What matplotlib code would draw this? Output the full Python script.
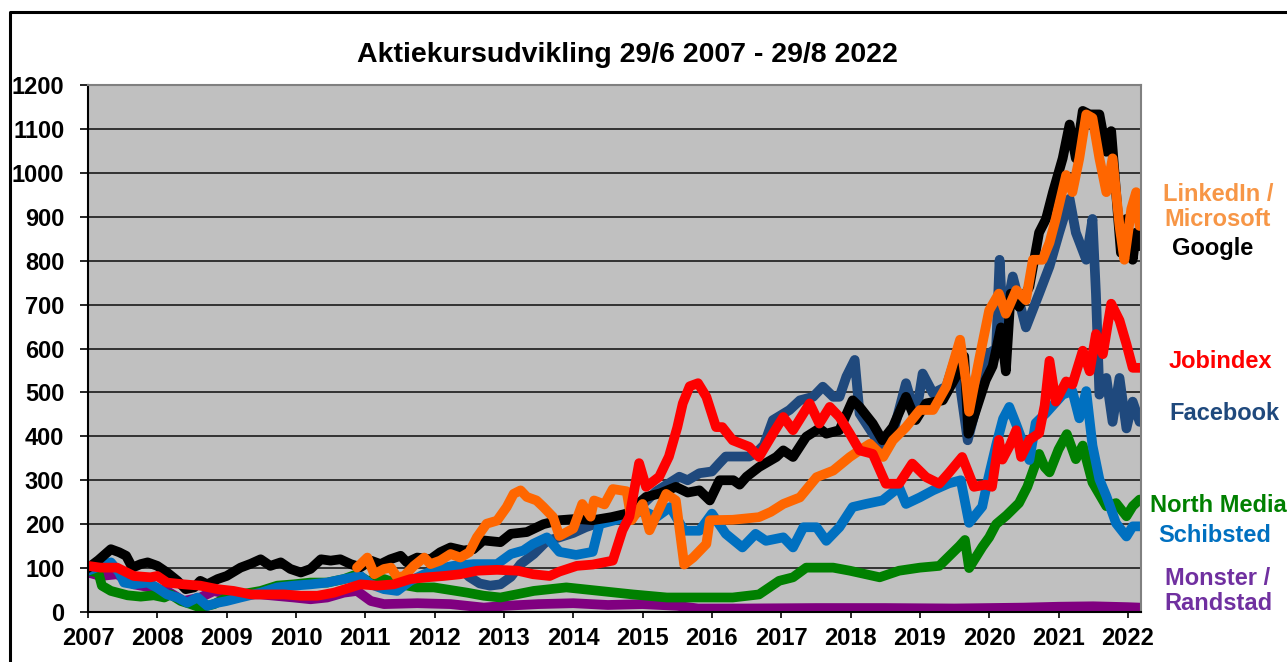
import matplotlib
matplotlib.use("Agg")
import matplotlib.pyplot as plt
from matplotlib.lines import Line2D

plt.rcParams['font.family'] = ['Liberation Sans', 'DejaVu Sans']
plt.rcParams['font.weight'] = 'bold'

# (year, index) pairs, start = 100
google = [(2007.00, 100), (2007.15, 118), (2007.33, 143), (2007.45, 136), (2007.55, 128), (2007.64, 101),
          (2007.76, 109), (2007.86, 113), (2008.00, 105), (2008.14, 90), (2008.29, 71), (2008.41, 52),
          (2008.53, 56), (2008.62, 71), (2008.72, 63), (2008.87, 75), (2009.00, 82), (2009.20, 101),
          (2009.35, 110), (2009.49, 120), (2009.63, 105), (2009.78, 113), (2009.92, 98), (2010.07, 90),
          (2010.21, 98), (2010.36, 120), (2010.50, 117), (2010.64, 120), (2010.79, 109), (2010.93, 102),
          (2011.08, 117), (2011.22, 109), (2011.36, 120), (2011.51, 128), (2011.60, 113), (2011.75, 124),
          (2011.94, 120), (2012.08, 136), (2012.23, 147), (2012.42, 140), (2012.56, 143), (2012.70, 163),
          (2012.95, 159), (2013.10, 178), (2013.33, 182), (2013.57, 200), (2013.80, 209), (2014.05, 212),
          (2014.28, 209), (2014.55, 216), (2014.77, 224), (2015.05, 262), (2015.25, 270), (2015.48, 285),
          (2015.65, 272), (2015.82, 277), (2015.97, 254), (2016.11, 300), (2016.31, 300), (2016.40, 290),
          (2016.50, 308), (2016.68, 330), (2016.93, 353), (2017.03, 368),
          (2017.17, 353), (2017.36, 399), (2017.55, 418), (2017.65, 406), (2017.84, 414), (2018.03, 482),
          (2018.13, 467), (2018.32, 429), (2018.46, 391), (2018.61, 421), (2018.80, 490), (2018.94, 437),
          (2019.09, 475), (2019.33, 482), (2019.52, 536), (2019.64, 582), (2019.70, 406), (2019.81, 460),
          (2019.95, 528), (2020.05, 560), (2020.17, 648), (2020.24, 548), (2020.31, 725), (2020.43, 695),
          (2020.58, 741), (2020.72, 864), (2020.82, 895), (2020.92, 956), (2021.06, 1033), (2021.16, 1110),
          (2021.25, 1033), (2021.35, 1141), (2021.45, 1133), (2021.59, 1133), (2021.69, 1048), (2021.76, 1095),
          (2021.83, 956), (2021.90, 818), (2021.98, 895), (2022.07, 802), (2022.12, 864), (2022.17, 833)]

linkedin = [(2010.88, 101), (2011.03, 124), (2011.13, 86), (2011.27, 98), (2011.37, 101), (2011.46, 79),
            (2011.56, 82), (2011.70, 105), (2011.85, 124), (2011.94, 109), (2012.08, 117), (2012.23, 132),
            (2012.37, 124), (2012.50, 136), (2012.61, 170), (2012.75, 201), (2012.90, 208), (2013.04, 239),
            (2013.14, 269), (2013.24, 277), (2013.33, 262), (2013.47, 254), (2013.57, 239), (2013.71, 216),
            (2013.80, 173), (2014.00, 190), (2014.13, 246), (2014.25, 217), (2014.30, 254), (2014.45, 245),
            (2014.57, 280), (2014.77, 275), (2014.84, 209), (2015.00, 246), (2015.10, 186), (2015.34, 269),
            (2015.48, 254), (2015.60, 108), (2015.73, 124), (2015.92, 155), (2015.97, 209), (2016.30, 210),
            (2016.68, 216), (2016.85, 228),
            (2017.03, 246), (2017.27, 261), (2017.51, 307), (2017.75, 322), (2017.99, 353), (2018.13, 368),
            (2018.28, 383), (2018.47, 353), (2018.61, 391), (2018.80, 421), (2019.00, 460), (2019.19, 460),
            (2019.38, 513), (2019.58, 620), (2019.67, 521), (2019.71, 456), (2019.86, 579), (2020.00, 687),
            (2020.14, 725), (2020.24, 679), (2020.39, 733), (2020.53, 710), (2020.63, 802), (2020.77, 802),
            (2020.87, 841), (2020.96, 895), (2021.11, 995), (2021.20, 956), (2021.30, 1033), (2021.40, 1133),
            (2021.49, 1125), (2021.59, 1033), (2021.69, 956), (2021.78, 1033), (2021.88, 879), (2021.95, 802),
            (2022.05, 918), (2022.12, 956), (2022.17, 879)]

facebook = [(2012.40, 95), (2012.50, 80), (2012.65, 65), (2012.80, 60), (2012.95, 63), (2013.10, 80),
            (2013.24, 109), (2013.43, 132), (2013.62, 162), (2013.80, 170), (2014.00, 180), (2014.18, 193),
            (2014.40, 205), (2014.60, 215), (2014.80, 225), (2015.00, 245), (2015.20, 275), (2015.53, 308),
            (2015.65, 300), (2015.82, 316), (2016.00, 320), (2016.11, 339), (2016.20, 354), (2016.54, 354),
            (2016.63, 361), (2016.75, 380),
            (2016.88, 437), (2017.12, 460), (2017.27, 482), (2017.46, 490), (2017.60, 513), (2017.75, 490),
            (2017.84, 490), (2017.94, 536), (2018.06, 574), (2018.13, 452), (2018.32, 406), (2018.46, 376),
            (2018.61, 406), (2018.80, 521), (2018.94, 444), (2019.04, 543), (2019.19, 498), (2019.38, 513),
            (2019.52, 582), (2019.69, 391), (2019.86, 495), (2020.00, 589), (2020.10, 600), (2020.15, 802),
            (2020.20, 648), (2020.34, 764), (2020.53, 648), (2020.72, 725), (2020.87, 787), (2021.01, 864),
            (2021.16, 941), (2021.25, 864), (2021.40, 802), (2021.49, 895), (2021.54, 725), (2021.59, 495),
            (2021.69, 533), (2021.78, 433), (2021.88, 533), (2021.98, 418), (2022.07, 479), (2022.17, 433)]

jobindex = [(2007.00, 105), (2007.18, 101), (2007.42, 101), (2007.66, 82), (2007.90, 79), (2008.00, 82),
            (2008.14, 67), (2008.38, 63), (2008.62, 60), (2008.87, 52), (2009.10, 48), (2009.35, 40),
            (2009.59, 40), (2009.83, 40), (2010.07, 37), (2010.31, 37), (2010.55, 44), (2010.79, 56),
            (2010.93, 63), (2011.17, 60), (2011.41, 63), (2011.65, 75), (2011.89, 79), (2012.13, 82),
            (2012.37, 86), (2012.61, 94), (2012.90, 96), (2013.20, 94), (2013.42, 86), (2013.66, 82),
            (2013.80, 92), (2014.05, 105), (2014.28, 108), (2014.57, 117), (2014.71, 186), (2014.81, 217),
            (2014.95, 339), (2015.05, 285), (2015.24, 308), (2015.38, 354), (2015.50, 420), (2015.58, 475),
            (2015.68, 514), (2015.80, 521), (2015.92, 490), (2016.06, 421),
            (2016.15, 421), (2016.30, 391), (2016.54, 376), (2016.68, 353), (2016.88, 406), (2017.03, 444),
            (2017.17, 414), (2017.41, 475), (2017.55, 429), (2017.70, 467), (2017.84, 444), (2017.99, 406),
            (2018.13, 368), (2018.32, 360), (2018.51, 292), (2018.70, 292), (2018.89, 338), (2019.09, 307),
            (2019.28, 292), (2019.42, 317), (2019.61, 353), (2019.78, 285), (2019.95, 290), (2020.04, 285),
            (2020.14, 392), (2020.19, 347), (2020.30, 380), (2020.39, 414), (2020.46, 353), (2020.58, 392),
            (2020.72, 407), (2020.80, 470), (2020.87, 572), (2020.96, 479), (2021.11, 525), (2021.20, 518),
            (2021.35, 595), (2021.45, 548), (2021.54, 633), (2021.64, 587), (2021.76, 702), (2021.88, 664),
            (2021.98, 610), (2022.07, 556), (2022.17, 556)]

schibsted = [(2007.00, 94), (2007.18, 105), (2007.33, 113), (2007.45, 90), (2007.52, 67), (2007.66, 63),
             (2007.86, 67), (2008.00, 55), (2008.14, 40), (2008.29, 33), (2008.43, 21), (2008.58, 33),
             (2008.72, 14), (2008.87, 21), (2009.00, 25), (2009.20, 33), (2009.49, 44), (2009.73, 56),
             (2009.97, 60), (2010.21, 63), (2010.45, 67), (2010.69, 75), (2010.93, 82), (2011.08, 63),
             (2011.27, 52), (2011.46, 48), (2011.65, 71), (2011.85, 86), (2012.04, 98), (2012.27, 105),
             (2012.56, 109), (2012.90, 109), (2013.10, 132), (2013.28, 140), (2013.42, 155), (2013.62, 170),
             (2013.80, 137), (2014.04, 130), (2014.28, 137), (2014.38, 200), (2014.77, 216), (2015.00, 231),
             (2015.20, 216), (2015.40, 239), (2015.60, 185), (2015.82, 185), (2016.00, 224), (2016.20, 178),
             (2016.44, 147), (2016.63, 178), (2016.78, 162), (2017.03, 170), (2017.17, 147), (2017.32, 193),
             (2017.51, 193),
             (2017.65, 162), (2017.84, 193), (2018.03, 239), (2018.22, 246), (2018.46, 254), (2018.70, 284),
             (2018.80, 246), (2019.00, 261), (2019.19, 277), (2019.42, 293), (2019.59, 300), (2019.71, 203),
             (2019.90, 240), (2019.98, 300), (2020.10, 380), (2020.20, 440), (2020.29, 467), (2020.39, 427),
             (2020.50, 380), (2020.58, 346), (2020.67, 430), (2020.82, 453), (2021.06, 495), (2021.20, 503),
             (2021.30, 441),
             (2021.40, 503), (2021.49, 379), (2021.59, 302), (2021.69, 264), (2021.83, 202), (2021.98, 172),
             (2022.07, 195), (2022.17, 195)]

northmedia = [(2007.00, 94), (2007.15, 90), (2007.20, 60), (2007.33, 48), (2007.57, 38), (2007.76, 35),
              (2007.95, 38), (2008.10, 33), (2008.19, 40), (2008.34, 25), (2008.48, 18), (2008.62, 10),
              (2008.82, 18), (2009.00, 33), (2009.20, 40), (2009.49, 48), (2009.73, 60), (2009.97, 63),
              (2010.21, 67), (2010.45, 67), (2010.69, 75), (2010.88, 86), (2011.03, 71), (2011.27, 75),
              (2011.50, 63), (2011.75, 56), (2011.99, 56), (2012.23, 50), (2012.47, 44), (2012.71, 37),
              (2012.95, 33), (2013.43, 48), (2013.90, 56), (2014.38, 48), (2014.86, 40), (2015.35, 33),
              (2015.82, 33), (2016.30, 33), (2016.68, 40), (2016.97, 71), (2017.17, 79), (2017.36, 101),
              (2017.55, 101), (2017.75, 101), (2017.99, 94), (2018.22, 86), (2018.42, 79), (2018.70, 94),
              (2019.00, 101), (2019.28, 105), (2019.57, 150), (2019.65, 164), (2019.71, 100), (2019.90, 148),
              (2020.00, 170), (2020.10, 200), (2020.25, 220), (2020.43, 248), (2020.55, 285), (2020.72, 360),
              (2020.80, 330), (2020.87, 318), (2021.00, 370), (2021.12, 405), (2021.25, 348), (2021.35, 379),
              (2021.49, 295), (2021.69, 241),
              (2021.83, 248), (2021.98, 218), (2022.07, 241), (2022.17, 256)]

monster = [(2007.00, 90), (2007.18, 82), (2007.42, 86), (2007.66, 63), (2007.90, 56), (2008.14, 48),
           (2008.38, 25), (2008.62, 33), (2008.82, 48), (2009.00, 40), (2009.49, 40), (2009.97, 33),
           (2010.21, 29), (2010.45, 33), (2010.69, 44), (2010.88, 48), (2011.08, 25), (2011.27, 18),
           (2011.75, 20), (2012.23, 18), (2012.71, 10), (2013.00, 14), (2013.50, 18), (2014.00, 20),
           (2014.50, 16), (2015.00, 18), (2015.50, 14), (2015.80, 8), (2016.50, 8), (2017.50, 9),
           (2018.50, 9), (2019.50, 8), (2020.00, 9), (2020.50, 10), (2021.00, 12), (2021.50, 13),
           (2022.00, 11), (2022.17, 10)]

years = list(range(2007, 2023))
title = "Aktiekursudvikling 29/6 2007 - 29/8 2022"

# drawn bottom to top
series = [
    (monster, '#800080'),
    (northmedia, '#008000'),
    (facebook, '#1F497D'),
    (schibsted, '#0070C0'),
    (google, '#000000'),
    (linkedin, '#FF6600'),
    (jobindex, '#FF0000'),
]

labels = [
    ("LinkedIn /\nMicrosoft", '#F79646', 1218, 207),
    ("Google", '#000000', 1213, 249),
    ("Jobindex", '#FF0000', 1220, 362),
    ("Facebook", '#1F497D', 1224, 414),
    ("North Media", '#008000', 1218, 505),
    ("Schibsted", '#0070C0', 1215, 535),
    ("Monster /\nRandstad", '#7030A0', 1218, 591),
]

W, H = 1287, 662
fig = plt.figure(figsize=(W / 100, H / 100), dpi=100)
ax = fig.add_axes([88 / W, 1 - 612 / H, (1141 - 88) / W, (612 - 85) / H])
ax.set_facecolor('#C0C0C0')

for data, col in series:
    xs = [p[0] for p in data]
    ys = [p[1] for p in data]
    ax.plot(xs, ys, color=col, lw=7, solid_joinstyle='round', solid_capstyle='round')

ax.set_xlim(2007, 2022.19)
ax.set_ylim(0, 1200)
ax.set_yticks(range(0, 1201, 100))
ax.set_xticks(years)
ax.set_xticklabels([str(y) for y in years])
ax.yaxis.grid(True, color='#1a1a1a', lw=1.2)
ax.set_axisbelow(True)
ax.tick_params(axis='y', direction='out', length=6, width=1.2, labelsize=17, pad=11)
ax.tick_params(axis='x', direction='out', length=4.5, width=1.2, labelsize=17, pad=6)
for lab in ax.get_xticklabels() + ax.get_yticklabels():
    lab.set_fontweight('bold')
ax.spines['left'].set_color('black')
ax.spines['bottom'].set_color('black')
ax.spines['left'].set_linewidth(1.5)
ax.spines['bottom'].set_linewidth(1.5)
for s in ('top', 'right'):
    ax.spines[s].set_color('#808080')
    ax.spines[s].set_linewidth(1.5)

fig.text(627 / W, 1 - 55 / H, title, ha='center', va='center', fontsize=20.5, fontweight='bold')

for txt, col, px, py in labels:
    fig.text(px / W, 1 - py / H, txt, ha='center', va='center', color=col,
             fontsize=17, fontweight='bold', linespacing=1.1)

# outer chart frame (left and top edges visible)
fig.add_artist(Line2D([10 / W, 10 / W, 1.0], [0.0, 1 - 12 / H, 1 - 12 / H],
                      transform=fig.transFigure, color='black', lw=2.2))

fig.savefig('out.png', dpi=100)
